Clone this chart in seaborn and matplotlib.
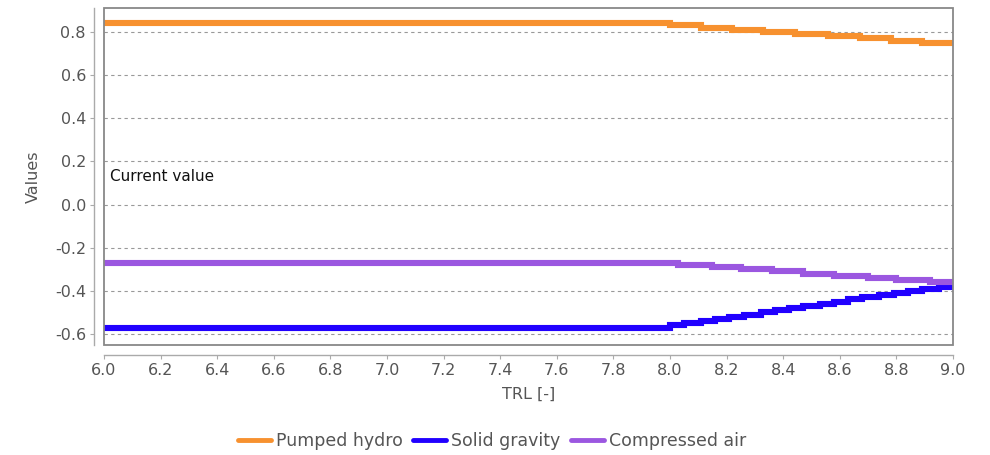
import numpy as np
import pandas as pd
import matplotlib
matplotlib.use("Agg")
import matplotlib.pyplot as plt
import seaborn as sns
from matplotlib.patches import Rectangle
from matplotlib.lines import Line2D

sns.set_theme(style="white")
plt.rcParams['font.family'] = ['DejaVu Sans']

series_names = ["Pumped hydro", "Solid gravity", "Compressed air"]
colors = ["#f7912f", "#2100ff", "#9b57e0"]

pumped_x = [6.0, 8.0, 8.11, 8.22, 8.33, 8.44, 8.56, 8.67, 8.78, 8.89, 9.0]
pumped_y = [0.84, 0.83, 0.82, 0.81, 0.80, 0.79, 0.78, 0.77, 0.76, 0.75, 0.75]

gravity_x = [6.0, 8.0, 8.05, 8.11, 8.16, 8.21, 8.26, 8.32, 8.37, 8.42, 8.47,
             8.53, 8.58, 8.63, 8.68, 8.74, 8.79, 8.84, 8.89, 8.95, 9.0]
gravity_y = [-0.57, -0.56, -0.55, -0.54, -0.53, -0.52, -0.51, -0.50, -0.49, -0.48, -0.47,
             -0.46, -0.45, -0.44, -0.43, -0.42, -0.41, -0.40, -0.39, -0.38, -0.38]

air_x = [6.0, 8.03, 8.15, 8.25, 8.36, 8.47, 8.58, 8.70, 8.80, 8.92, 9.0]
air_y = [-0.27, -0.28, -0.29, -0.30, -0.31, -0.32, -0.33, -0.34, -0.35, -0.36, -0.36]

x_ticks = [6.0, 6.2, 6.4, 6.6, 6.8, 7.0, 7.2, 7.4, 7.6, 7.8, 8.0, 8.2, 8.4, 8.6, 8.8, 9.0]
y_ticks = [-0.6, -0.4, -0.2, 0.0, 0.2, 0.4, 0.6, 0.8]

frames = []
for name, xs, ys in zip(series_names, [pumped_x, gravity_x, air_x], [pumped_y, gravity_y, air_y]):
    frames.append(pd.DataFrame({"TRL": xs, "Values": ys, "series": name}))
df = pd.concat(frames, ignore_index=True)

fig = plt.figure(figsize=(9.9, 4.55), dpi=100)
ax = fig.add_axes([104/990, 1-345/455, (953-104)/990, (345-8)/455])

text_gray = "#555555"
axis_gray = "#aaaaaa"

# grid
for yt in y_ticks:
    ax.axhline(yt, color="#999999", lw=0.8, ls=(0, (3, 3)), zorder=0)

sns.lineplot(data=df, x="TRL", y="Values", hue="series", hue_order=series_names,
             palette=colors, drawstyle="steps-post", linewidth=4.4, ax=ax,
             legend=False, estimator=None, sort=False,
             solid_capstyle="butt", solid_joinstyle="miter")

ax.set_xlim(6.0, 9.0)
ax.set_ylim(-0.651, 0.911)
ax.set_xticks(x_ticks)
ax.set_xticklabels([f"{v:.1f}" for v in x_ticks])
ax.set_yticks(y_ticks)
ax.set_yticklabels([f"{v:.1f}" for v in y_ticks])

for side in ["top", "right"]:
    ax.spines[side].set_visible(False)
for side in ["left", "bottom"]:
    ax.spines[side].set_position(("outward", 7))
    ax.spines[side].set_color(axis_gray)
    ax.spines[side].set_linewidth(1.0)

ax.add_patch(Rectangle((0, 0), 1, 1, transform=ax.transAxes, fill=False,
                       edgecolor="#888888", lw=1.3, zorder=5, clip_on=False))

ax.tick_params(axis="both", which="major", direction="out", length=3, width=0.8,
               color=axis_gray, labelcolor=text_gray, labelsize=11.5, pad=3,
               bottom=True, left=True)

ax.set_xlabel("TRL [-]", color=text_gray, fontsize=11.5, labelpad=6)
ax.set_ylabel("Values", color=text_gray, fontsize=11.5, labelpad=10)

ax.text(0.007, 0.128, "Current value", color="#111111", fontsize=11,
        va="center", ha="left", transform=ax.get_yaxis_transform())

handles = [Line2D([0], [0], color=c, lw=3.5, solid_capstyle="round") for c in colors]
leg = fig.legend(handles, series_names, loc="center", bbox_to_anchor=(0.497, 1-441/455),
                 ncol=3, frameon=False, fontsize=12.5, handlelength=1.9,
                 handletextpad=0.3, columnspacing=0.6)
for t in leg.get_texts():
    t.set_color(text_gray)

fig.savefig("out.png", dpi=100)
